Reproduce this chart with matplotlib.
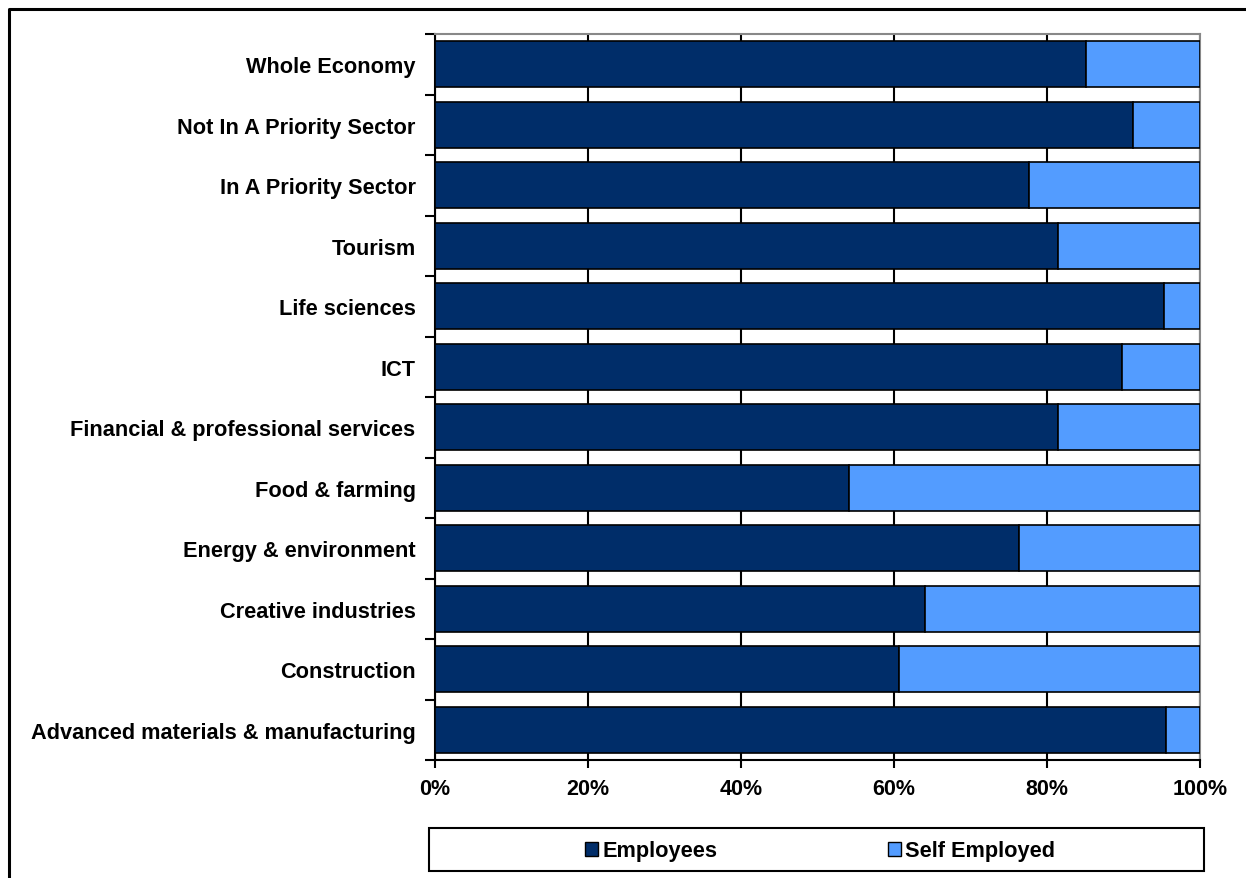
import matplotlib
matplotlib.use("Agg")
import matplotlib.pyplot as plt
from matplotlib.patches import Patch, Rectangle
from matplotlib.lines import Line2D
import numpy as np

plt.rcParams['font.family'] = ['Liberation Sans', 'DejaVu Sans']

categories = [
    "Whole Economy",
    "Not In A Priority Sector",
    "In A Priority Sector",
    "Tourism",
    "Life sciences",
    "ICT",
    "Financial & professional services",
    "Food & farming",
    "Energy & environment",
    "Creative industries",
    "Construction",
    "Advanced materials & manufacturing",
]
employees = [85.1, 91.2, 77.6, 81.5, 95.3, 89.8, 81.5, 54.1, 76.3, 64.0, 60.6, 95.6]
self_employed = [100 - v for v in employees]
xticks = [0, 20, 40, 60, 80, 100]
xtick_labels = ["0%", "20%", "40%", "60%", "80%", "100%"]

dark = "#002D69"
light = "#539CFF"

fig = plt.figure(figsize=(12.46, 8.79), dpi=100)
ax = fig.add_axes([435/1246, 1-761/879, (1200-435)/1246, (761-35)/879])

n = len(categories)
y = np.arange(n)[::-1]  # first category at top
ax.barh(y, employees, height=0.76, color=dark, edgecolor="black", linewidth=1.2, zorder=3)
ax.barh(y, self_employed, left=employees, height=0.76, color=light, edgecolor="black",
        linewidth=1.2, zorder=3)

ax.set_xlim(0, 100)
ax.set_ylim(-0.5, n - 0.5)
ax.set_xticks(xticks)
ax.set_xticklabels(xtick_labels, fontsize=15.5, fontweight="bold")
ax.set_yticks(y)
ax.set_yticklabels(categories, fontsize=15.7, fontweight="bold")
ax.tick_params(axis="y", which="major", length=0, pad=14)
ax.set_yticks(np.arange(-0.5, n, 1), minor=True)
ax.tick_params(axis="y", which="minor", length=7, width=1.5, direction="out", color="black")
ax.tick_params(axis="x", which="major", length=6, width=1.5, direction="out", pad=7)

ax.grid(axis="x", color="black", linewidth=1.5, zorder=0)
ax.set_axisbelow(True)

for s in ["left", "bottom"]:
    ax.spines[s].set_color("black")
    ax.spines[s].set_linewidth(1.5)
for s in ["top", "right"]:
    ax.spines[s].set_color("#888888")
    ax.spines[s].set_linewidth(1.5)

# legend box
fig.patches.append(Rectangle((429/1246, 1-872/879), 775/1246, 43/879, transform=fig.transFigure,
                             facecolor="white", edgecolor="black", linewidth=1.5))
handles = [Patch(facecolor=dark, edgecolor="black", label="Employees"),
           Patch(facecolor=light, edgecolor="black", label="Self Employed")]
fig.legend(handles=handles, loc="center", bbox_to_anchor=(820/1246, 1-852/879), ncol=2,
           frameon=False, prop={"size": 15.7, "weight": "bold"}, handlelength=0.6,
           handleheight=0.6, handletextpad=0.2, columnspacing=7.8)

# outer border
fig.lines.append(Line2D([9/1246, 9/1246, 1.0], [0, 1-10/879, 1-10/879], transform=fig.transFigure,
                        color="black", linewidth=2.2))

fig.savefig("out.png", dpi=100)
